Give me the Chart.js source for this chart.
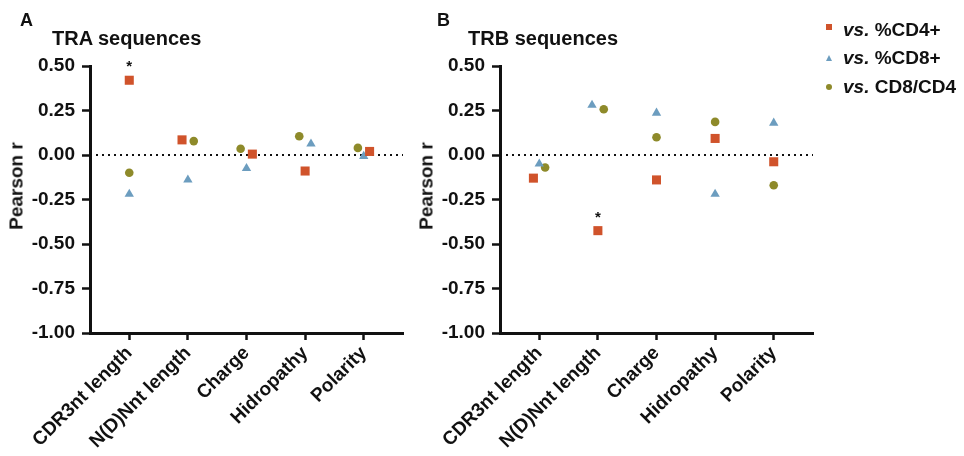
<!DOCTYPE html>
<html>
<head>
<meta charset="utf-8">
<script src="https://cdn.jsdelivr.net/npm/chart.js@4.4.1/dist/chart.umd.min.js"></script>
<style>
  body { margin: 0; background: #fff; font-family: "Liberation Sans", Arial, sans-serif; }
  #wrap { position: relative; width: 964px; height: 456px; overflow: hidden; }
  canvas { position: absolute; top: 0; }
  .lbl { position: absolute; font-weight: bold; color: #111; white-space: nowrap; line-height: 1; }
  .yt { transform: translate(-50%, -50%) rotate(-90deg); font-size: 19px; }
  .leg { position: absolute; left: 820px; font-size: 19px; font-weight: bold; color: #111; line-height: 19px; white-space: nowrap; }
  .leg i { font-style: italic; }
  .mk { position: absolute; left: 826px; }
  .sq { width: 6px; height: 6px; background: #d0532b; }
  .tri { width: 0; height: 0; border-left: 3.5px solid transparent; border-right: 3.5px solid transparent; border-bottom: 6px solid #6c9dbf; }
  .dot { width: 6px; height: 6px; border-radius: 50%; background: #8e8a2a; }
</style>
</head>
<body>
<div id="wrap">
  <canvas id="chartA" width="430" height="456" style="left:0"></canvas>
  <canvas id="chartB" width="430" height="456" style="left:410px"></canvas>

  <div class="lbl" style="left:20px;top:11px;font-size:18px">A</div>
  <div class="lbl" style="left:52px;top:28px;font-size:20px">TRA sequences</div>
  <div class="lbl" style="left:437px;top:11px;font-size:18px">B</div>
  <div class="lbl" style="left:468px;top:28px;font-size:20px">TRB sequences</div>
  <div class="lbl yt" style="left:16px;top:186px">Pearson r</div>
  <div class="lbl yt" style="left:426px;top:186px">Pearson r</div>

  <div class="mk sq" style="top:24px"></div>
  <div class="mk tri" style="top:55px"></div>
  <div class="mk dot" style="top:84px"></div>
  <div class="leg" style="left:843px;top:20px"><i>vs.</i> %CD4+</div>
  <div class="leg" style="left:843px;top:48px"><i>vs.</i> %CD8+</div>
  <div class="leg" style="left:843px;top:77px"><i>vs.</i> CD8/CD4</div>
</div>

<script>
// categories and tick labels
const categories = ['CDR3nt length', 'N(D)Nnt length', 'Charge', 'Hidropathy', 'Polarity'];
const yTicks = [0.5, 0.25, 0, -0.25, -0.5, -0.75, -1];

// Pearson r values, TRA panel
const traCD4 = [0.42, 0.085, 0.005, -0.09, 0.02];
const traCD8 = [-0.22, -0.14, -0.075, 0.063, -0.007];
const traRatio = [-0.10, 0.078, 0.035, 0.105, 0.04];

// Pearson r values, TRB panel
const trbCD4 = [-0.13, -0.425, -0.14, 0.093, -0.038];
const trbCD8 = [-0.05, 0.28, 0.236, -0.22, 0.18];
const trbRatio = [-0.07, 0.257, 0.10, 0.186, -0.17];

// index of the significant (*) point in the %CD4+ series
const traStar = [0];
const trbStar = [1];

// horizontal nudge of overlapping points (in category units)
const traJitter = { cd4: [0, -0.1, 0.1, 0, 0.1], cd8: [0, 0, 0, 0.1, 0], ratio: [0, 0.1, -0.1, -0.1, -0.1] };
const trbJitter = { cd4: [-0.1, 0, 0, 0, 0], cd8: [0, -0.1, 0, 0, 0], ratio: [0.1, 0.1, 0, 0, 0] };

const ORANGE = '#d0532b';
const BLUE = '#6c9dbf';
const OLIVE = '#8e8a2a';
const INK = '#111';
const X_MIN = -0.67, X_MAX = 4.67;

const toPoints = (vals, jit) => vals.map((v, i) => ({ x: i + jit[i], y: v }));

// asterisks above significant points
const starPlugin = {
  id: 'stars',
  afterDatasetsDraw(chart, args, opts) {
    const meta = chart.getDatasetMeta(0);
    const ctx = chart.ctx;
    ctx.save();
    ctx.fillStyle = INK;
    ctx.font = 'bold 15px "Liberation Sans", Arial, sans-serif';
    ctx.textAlign = 'center';
    ctx.textBaseline = 'middle';
    opts.idx.forEach(i => {
      const el = meta.data[i];
      ctx.fillText('*', el.x, el.y - 13);
    });
    ctx.restore();
  }
};

function makeChart(id, cd4, cd8, ratio, jitter, stars) {
  const ctx = document.getElementById(id).getContext('2d');
  return new Chart(ctx, {
    type: 'scatter',
    data: {
      datasets: [
        { label: 'vs. %CD4+', data: toPoints(cd4, jitter.cd4), pointStyle: 'rect', pointRadius: 6.4,
          backgroundColor: ORANGE, borderColor: ORANGE, borderWidth: 0, order: 1 },
        { label: 'vs. %CD8+', data: toPoints(cd8, jitter.cd8), pointStyle: 'triangle', pointRadius: 5.4,
          backgroundColor: BLUE, borderColor: BLUE, borderWidth: 0, order: 1 },
        { label: 'vs. CD8/CD4', data: toPoints(ratio, jitter.ratio), pointStyle: 'circle', pointRadius: 4.3,
          backgroundColor: OLIVE, borderColor: OLIVE, borderWidth: 0, order: 1 },
        { type: 'line', label: 'zero', data: [{ x: X_MIN, y: 0 }, { x: X_MAX, y: 0 }],
          borderColor: INK, borderWidth: 2, borderDash: [2, 4], pointRadius: 0, order: 5 }
      ]
    },
    options: {
      responsive: false,
      animation: false,
      layout: { padding: { top: 66, right: 27, left: 0, bottom: 0 } },
      plugins: { legend: { display: false }, tooltip: { enabled: false }, stars: { idx: stars } },
      scales: {
        x: {
          type: 'linear', min: X_MIN, max: X_MAX,
          afterBuildTicks: s => { s.ticks = categories.map((c, i) => ({ value: i })); },
          afterFit: s => { s.height = 123; },
          ticks: {
            callback: v => categories[v],
            minRotation: 45, maxRotation: 45, autoSkip: false,
            color: INK, padding: 2,
            font: { family: '"Liberation Sans", Arial, sans-serif', size: 19, weight: 'bold' }
          },
          grid: { drawOnChartArea: false, tickLength: 7, tickWidth: 2.5, tickColor: INK },
          border: { color: INK, width: 3 }
        },
        y: {
          min: -1, max: 0.5,
          afterBuildTicks: s => { s.ticks = yTicks.map(v => ({ value: v })); },
          afterFit: s => { s.width = 90; },
          ticks: {
            callback: v => v.toFixed(2),
            color: INK, padding: 7,
            font: { family: '"Liberation Sans", Arial, sans-serif', size: 19, weight: 'bold' }
          },
          grid: { drawOnChartArea: false, tickLength: 8, tickWidth: 2.5, tickColor: INK },
          border: { color: INK, width: 3 }
        }
      }
    },
    plugins: [starPlugin]
  });
}

makeChart('chartA', traCD4, traCD8, traRatio, traJitter, traStar);
makeChart('chartB', trbCD4, trbCD8, trbRatio, trbJitter, trbStar);
</script>
</body>
</html>
